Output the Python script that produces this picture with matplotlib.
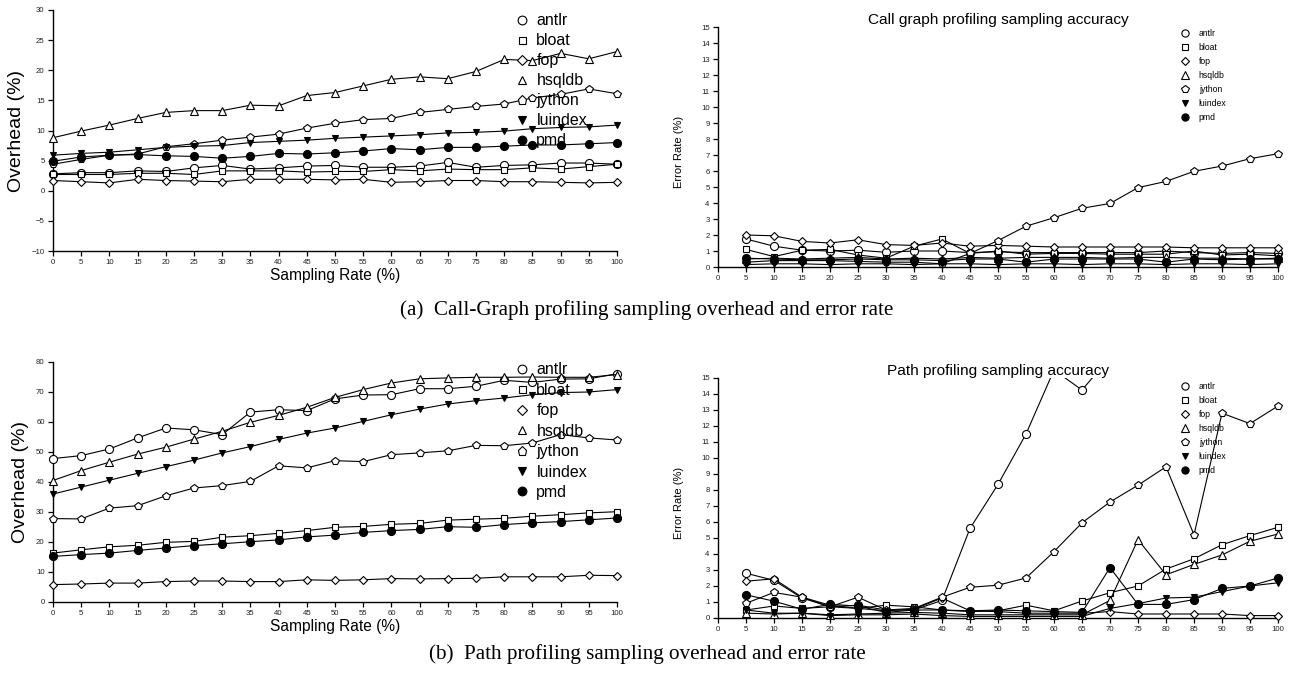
import matplotlib
matplotlib.use('Agg')
import matplotlib.pyplot as plt
from matplotlib.lines import Line2D

plt.rcParams['font.family'] = ['Liberation Sans', 'DejaVu Sans']

W, H = 1294, 675

# ---------------- data ----------------
benchmarks = ['antlr', 'bloat', 'fop', 'hsqldb', 'jython', 'luindex', 'pmd']

rates_overhead = [0, 5, 10, 15, 20, 25, 30, 35, 40, 45, 50, 55, 60, 65, 70, 75, 80, 85, 90, 95, 100]
rates_error = [5, 10, 15, 20, 25, 30, 35, 40, 45, 50, 55, 60, 65, 70, 75, 80, 85, 90, 95, 100]

# (a) call-graph profiling overhead (%)
cg_overhead_antlr = [2.8, 3.0, 3.0, 3.3, 3.2, 3.8, 4.2, 3.6, 3.8, 4.1, 4.2, 3.9, 3.9, 4.1, 4.7, 3.9, 4.2, 4.3, 4.6, 4.6, 4.4]
cg_overhead_bloat = [2.7, 2.7, 2.7, 2.9, 2.9, 2.7, 3.3, 3.3, 3.3, 3.1, 3.2, 3.2, 3.5, 3.3, 3.6, 3.5, 3.5, 3.8, 3.6, 4.0, 4.4]
cg_overhead_fop = [1.7, 1.5, 1.3, 1.9, 1.7, 1.6, 1.5, 1.9, 1.9, 1.9, 1.8, 1.9, 1.4, 1.5, 1.7, 1.7, 1.5, 1.5, 1.4, 1.3, 1.4]
cg_overhead_hsqldb = [8.8, 9.9, 10.9, 12.0, 13.0, 13.3, 13.3, 14.2, 14.1, 15.8, 16.3, 17.4, 18.5, 18.9, 18.6, 19.8, 21.8, 21.6, 22.8, 21.9, 23.1]
cg_overhead_jython = [4.4, 5.2, 5.9, 6.1, 7.3, 7.8, 8.4, 8.9, 9.4, 10.4, 11.2, 11.8, 12.0, 13.0, 13.5, 14.0, 14.4, 15.4, 16.0, 16.9, 16.1]
cg_overhead_luindex = [5.9, 6.2, 6.4, 6.8, 7.2, 7.4, 7.5, 8.0, 8.2, 8.4, 8.7, 8.9, 9.1, 9.3, 9.6, 9.7, 9.9, 10.3, 10.5, 10.6, 10.9]
cg_overhead_pmd = [4.9, 5.6, 5.9, 6.0, 5.8, 5.7, 5.4, 5.7, 6.2, 6.1, 6.3, 6.6, 7.0, 6.8, 7.2, 7.2, 7.4, 7.6, 7.6, 7.8, 8.0]

# (a) call-graph profiling error rate (%)
cg_error_antlr = [1.75, 1.3, 1.05, 1.0, 1.05, 0.92, 1.0, 1.0, 0.9, 0.95, 0.9, 0.9, 0.9, 0.9, 0.9, 1.0, 0.9, 0.85, 0.9, 0.85]
cg_error_bloat = [1.1, 0.65, 1.05, 1.1, 0.75, 0.55, 1.3, 1.75, 0.85, 1.0, 0.8, 0.85, 0.85, 0.8, 0.8, 0.8, 1.0, 0.75, 0.8, 0.7]
cg_error_fop = [2.0, 1.95, 1.6, 1.5, 1.7, 1.4, 1.35, 1.5, 1.3, 1.35, 1.3, 1.25, 1.25, 1.25, 1.25, 1.25, 1.2, 1.2, 1.2, 1.2]
cg_error_hsqldb = [0.5, 0.55, 0.5, 0.55, 0.6, 0.5, 0.55, 0.5, 0.6, 0.55, 0.6, 0.6, 0.6, 0.55, 0.6, 0.6, 0.55, 0.55, 0.5, 0.55]
cg_error_jython = [0.3, 0.4, 0.4, 0.4, 0.35, 0.3, 0.3, 0.2, 0.85, 1.65, 2.55, 3.08, 3.67, 3.97, 4.96, 5.35, 5.98, 6.31, 6.77, 7.08]
cg_error_luindex = [0.15, 0.2, 0.2, 0.15, 0.2, 0.2, 0.15, 0.2, 0.2, 0.15, 0.2, 0.2, 0.15, 0.2, 0.2, 0.15, 0.2, 0.2, 0.15, 0.2]
cg_error_pmd = [0.55, 0.5, 0.45, 0.45, 0.5, 0.45, 0.45, 0.4, 0.5, 0.5, 0.3, 0.5, 0.5, 0.5, 0.5, 0.3, 0.5, 0.45, 0.5, 0.5]

# (b) path profiling overhead (%)
pp_overhead_antlr = [47.8, 48.8, 51.0, 54.7, 58.0, 57.4, 55.8, 63.3, 64.1, 63.8, 67.7, 69.0, 69.1, 71.1, 71.1, 71.9, 73.9, 73.2, 74.3, 74.4, 76.1]
pp_overhead_bloat = [16.3, 17.4, 18.4, 18.9, 19.9, 20.2, 21.6, 22.1, 22.9, 23.8, 24.9, 25.2, 25.9, 26.2, 27.3, 27.6, 27.9, 28.6, 29.1, 29.7, 30.1]
pp_overhead_fop = [5.8, 6.0, 6.3, 6.3, 6.8, 7.0, 7.0, 6.8, 6.8, 7.4, 7.2, 7.4, 7.8, 7.7, 7.8, 7.9, 8.4, 8.4, 8.4, 8.9, 8.8]
pp_overhead_hsqldb = [40.5, 43.8, 46.6, 49.3, 51.6, 54.3, 56.9, 59.9, 62.2, 64.9, 68.2, 70.8, 73.0, 74.4, 74.7, 74.9, 74.9, 75.0, 74.9, 74.9, 75.8]
pp_overhead_jython = [27.8, 27.7, 31.3, 32.1, 35.4, 38.0, 38.8, 40.2, 45.4, 44.7, 47.1, 46.8, 49.1, 49.7, 50.4, 52.2, 52.1, 53.0, 55.8, 54.7, 54.0]
pp_overhead_luindex = [36.0, 38.3, 40.6, 42.9, 45.1, 47.3, 49.7, 51.8, 54.2, 56.3, 58.0, 60.2, 62.4, 64.3, 66.0, 67.1, 68.0, 69.1, 69.8, 70.0, 70.8]
pp_overhead_pmd = [15.2, 15.8, 16.3, 17.2, 18.0, 18.8, 19.4, 20.1, 20.7, 21.7, 22.3, 23.2, 23.8, 24.2, 25.1, 24.9, 25.8, 26.4, 26.8, 27.4, 28.0]

# (b) path profiling error rate (%)
pp_error_antlr = [2.8, 2.35, 1.25, 0.7, 0.8, 0.5, 0.5, 1.1, 5.6, 8.35, 11.5, 15.5, 14.25, 16.3, 18.0, 19.0, 20.0, 21.0, 22.0, 23.0]
pp_error_bloat = [0.5, 0.75, 0.6, 0.7, 0.6, 0.8, 0.7, 0.5, 0.4, 0.45, 0.8, 0.45, 1.06, 1.58, 2.0, 3.06, 3.7, 4.58, 5.15, 5.67]
pp_error_fop = [2.3, 2.45, 1.3, 0.8, 0.6, 0.45, 0.55, 1.25, 0.45, 0.4, 0.3, 0.3, 0.3, 0.4, 0.25, 0.25, 0.25, 0.25, 0.15, 0.15]
pp_error_hsqldb = [0.3, 0.25, 0.3, 0.2, 0.25, 0.3, 0.35, 0.3, 0.2, 0.2, 0.2, 0.2, 0.2, 1.1, 4.9, 2.7, 3.35, 3.94, 4.8, 5.25]
pp_error_jython = [0.92, 1.6, 1.3, 0.7, 1.3, 0.5, 0.6, 1.3, 1.92, 2.05, 2.5, 4.15, 5.95, 7.25, 8.3, 9.45, 5.2, 12.8, 12.15, 13.25]
pp_error_luindex = [0.5, 0.3, 0.3, 0.15, 0.2, 0.2, 0.25, 0.15, 0.1, 0.1, 0.1, 0.1, 0.1, 0.6, 0.9, 1.25, 1.3, 1.65, 2.0, 2.2]
pp_error_pmd = [1.45, 1.05, 0.55, 0.85, 0.75, 0.35, 0.5, 0.5, 0.45, 0.5, 0.45, 0.4, 0.35, 3.15, 0.85, 0.85, 1.15, 1.85, 2.0, 2.5]

cg_overhead = [cg_overhead_antlr, cg_overhead_bloat, cg_overhead_fop, cg_overhead_hsqldb,
               cg_overhead_jython, cg_overhead_luindex, cg_overhead_pmd]
cg_error = [cg_error_antlr, cg_error_bloat, cg_error_fop, cg_error_hsqldb,
            cg_error_jython, cg_error_luindex, cg_error_pmd]
pp_overhead = [pp_overhead_antlr, pp_overhead_bloat, pp_overhead_fop, pp_overhead_hsqldb,
               pp_overhead_jython, pp_overhead_luindex, pp_overhead_pmd]
pp_error = [pp_error_antlr, pp_error_bloat, pp_error_fop, pp_error_hsqldb,
            pp_error_jython, pp_error_luindex, pp_error_pmd]

# ---------------- style ----------------
marker_style = {
    'antlr': ('o', 'white', 1.0),
    'bloat': ('s', 'white', 0.8),
    'fop': ('D', 'white', 0.78),
    'hsqldb': ('^', 'white', 1.0),
    'jython': ('p', 'white', 1.05),
    'luindex': ('v', 'black', 0.85),
    'pmd': ('o', 'black', 1.0),
}

fig = plt.figure(figsize=(W / 100, H / 100), dpi=100)


def px_axes(x0_px, x1_px, ytop_px, ybot_px, xlim, ylim, xd=(0, 100), yd=None):
    """Create axes so that data xd maps to x0_px..x1_px and yd maps ybot..ytop."""
    sx = (x1_px - x0_px) / (xd[1] - xd[0])
    sy = (ybot_px - ytop_px) / (yd[1] - yd[0])
    left = x0_px - (xd[0] - xlim[0]) * sx
    right = x1_px + (xlim[1] - xd[1]) * sx
    bottom = ybot_px + (yd[0] - ylim[0]) * sy
    top = ytop_px - (ylim[1] - yd[1]) * sy
    ax = fig.add_axes([left / W, 1 - bottom / H, (right - left) / W, (bottom - top) / H])
    ax.set_xlim(*xlim)
    ax.set_ylim(*ylim)
    ax.patch.set_visible(False)
    for s in ('top', 'right'):
        ax.spines[s].set_visible(False)
    ax.spines['left'].set_position(('data', xd[0]))
    ax.spines['left'].set_bounds(*yd)
    ax.spines['bottom'].set_position(('data', yd[0]))
    ax.spines['bottom'].set_bounds(*xd)
    for s in ('left', 'bottom'):
        ax.spines[s].set_linewidth(1.0)
    ax.tick_params(direction='out', length=3.5, width=0.9, labelsize=5.6,
                   labelcolor='#222222', pad=2.5)
    ax.set_xticks(rates_overhead)
    return ax


def draw_series(ax, xs, series, ms, clip=True):
    for name, ys in zip(benchmarks, series):
        m, fc, scale = marker_style[name]
        ax.plot(xs, ys, color='black', lw=0.8, marker=m, markersize=ms * scale,
                markerfacecolor=fc, markeredgecolor='black', markeredgewidth=0.8,
                clip_on=clip, zorder=3)


def add_legend(ax, x_marker_px, first_row_px, fontsize, ms, labelspacing, textpad):
    handles = []
    for name in benchmarks:
        m, fc, scale = marker_style[name]
        handles.append(Line2D([], [], linestyle='none', marker=m, markersize=ms * scale,
                              markerfacecolor=fc, markeredgecolor='black', markeredgewidth=0.8))
    fs_px = fontsize * 100 / 72
    left = x_marker_px - 0.5 * fs_px
    top = first_row_px - 0.6 * fs_px
    ax.legend(handles, benchmarks, loc='upper left',
              bbox_to_anchor=(left / W, 1 - top / H), bbox_transform=fig.transFigure,
              frameon=False, fontsize=fontsize, handlelength=1.0, handletextpad=textpad,
              labelspacing=labelspacing, borderpad=0, borderaxespad=0)


# ---------- (a) left: call-graph overhead ----------
ax1 = px_axes(53, 617, 10, 251, xlim=(-1.8, 101.8), ylim=(-10, 30), yd=(-10, 30))
draw_series(ax1, rates_overhead, cg_overhead, ms=5.8)
ax1.set_yticks([-10, -5, 0, 5, 10, 15, 20, 25, 30])
ax1.set_ylabel('Overhead (%)', fontsize=14, labelpad=5)
ax1.set_xlabel('Sampling Rate (%)', fontsize=11.2, labelpad=1)
add_legend(ax1, 522, 23, fontsize=11.5, ms=6.3, labelspacing=0.31, textpad=0.4)

# ---------- (a) right: call-graph error ----------
ax2 = px_axes(718, 1278, 27, 267, xlim=(-1.8, 101.8), ylim=(-0.6, 15), yd=(0, 15))
draw_series(ax2, rates_error, cg_error, ms=5.8)
ax2.set_yticks(list(range(0, 16)))
ax2.set_ylabel('Error Rate (%)', fontsize=8, labelpad=12)
ax2.set_title('Call graph profiling sampling accuracy', fontsize=11.1, pad=1)
add_legend(ax2, 1185, 34, fontsize=6.2, ms=5.2, labelspacing=0.58, textpad=1.1)

# ---------- (b) left: path overhead ----------
ax3 = px_axes(53, 617, 362, 602, xlim=(-1.8, 101.8), ylim=(0, 80), yd=(0, 80))
draw_series(ax3, rates_overhead, pp_overhead, ms=5.8)
ax3.set_yticks([0, 10, 20, 30, 40, 50, 60, 70, 80])
ax3.set_ylabel('Overhead (%)', fontsize=14, labelpad=5)
ax3.set_xlabel('Sampling Rate (%)', fontsize=11.2, labelpad=1)
add_legend(ax3, 522, 372, fontsize=11.5, ms=6.3, labelspacing=0.34, textpad=0.4)

# ---------- (b) right: path error ----------
ax4 = px_axes(718, 1278, 378, 618, xlim=(-1.8, 101.8), ylim=(-0.6, 15), yd=(0, 15))
draw_series(ax4, rates_error, pp_error, ms=5.8)
ax4.set_yticks(list(range(0, 16)))
ax4.set_ylabel('Error Rate (%)', fontsize=8, labelpad=12)
ax4.set_title('Path profiling sampling accuracy', fontsize=11.1, pad=1)
add_legend(ax4, 1185, 387, fontsize=6.2, ms=5.2, labelspacing=0.58, textpad=1.1)

# ---------- captions ----------
fig.text(0.5, 1 - 310 / H, '(a)  Call-Graph profiling sampling overhead and error rate',
         ha='center', va='center', fontsize=15.2, family=['Liberation Serif', 'DejaVu Serif'])
fig.text(0.5, 1 - 654 / H, '(b)  Path profiling sampling overhead and error rate',
         ha='center', va='center', fontsize=15.2, family=['Liberation Serif', 'DejaVu Serif'])

fig.savefig('out.png', dpi=100)
